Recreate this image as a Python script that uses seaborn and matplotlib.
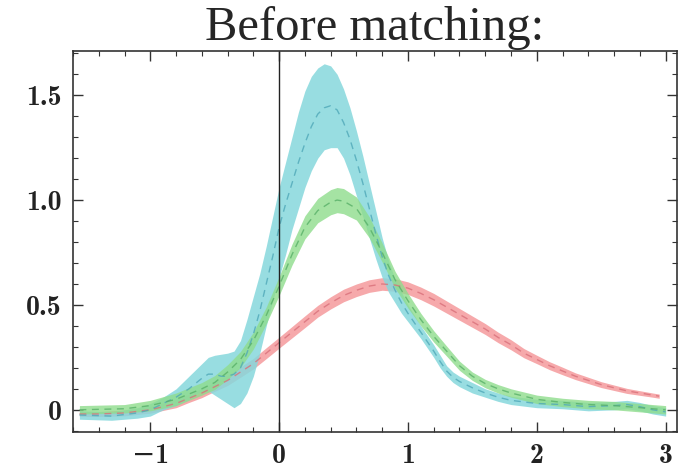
import numpy as np
import pandas as pd
import matplotlib
matplotlib.use("Agg")
import matplotlib.pyplot as plt
import seaborn as sns
from matplotlib.ticker import MultipleLocator, FixedLocator

# ---- data ----
red_x = [-1.55, -1.4, -1.2, -1.0, -0.9, -0.8, -0.7, -0.6, -0.5, -0.4, -0.3, -0.2, -0.1, 0.0,
         0.1, 0.2, 0.3, 0.4, 0.5, 0.6, 0.7, 0.8, 0.9, 1.0, 1.1, 1.2, 1.3, 1.4, 1.5, 1.6, 1.7,
         1.8, 1.9, 2.0, 2.1, 2.2, 2.3, 2.4, 2.5, 2.6, 2.7, 2.8, 2.9, 2.95]
red_y = [-0.02, -0.02, -0.015, 0.0, 0.015, 0.03, 0.055, 0.08, 0.11, 0.14, 0.18, 0.22, 0.27,
         0.32, 0.37, 0.42, 0.47, 0.51, 0.545, 0.57, 0.59, 0.60, 0.595, 0.58, 0.555, 0.525,
         0.49, 0.455, 0.42, 0.385, 0.345, 0.31, 0.27, 0.24, 0.21, 0.185, 0.16, 0.14, 0.12,
         0.105, 0.09, 0.08, 0.07, 0.065]
red_w = [0.012, 0.012, 0.014, 0.016, 0.018, 0.02, 0.02, 0.022, 0.022, 0.024, 0.025, 0.025,
         0.026, 0.026, 0.027, 0.028, 0.028, 0.029, 0.03, 0.03, 0.03, 0.03, 0.03, 0.03, 0.03,
         0.03, 0.029, 0.028, 0.027, 0.026, 0.025, 0.024, 0.022, 0.02, 0.019, 0.018, 0.016,
         0.015, 0.014, 0.013, 0.012, 0.011, 0.01, 0.01]

green_x = [-1.55, -1.2, -1.0, -0.8, -0.6, -0.5, -0.4, -0.3, -0.2, -0.1, 0.0, 0.1, 0.2, 0.3,
           0.4, 0.45, 0.5, 0.6, 0.7, 0.8, 0.9, 1.0, 1.1, 1.2, 1.3, 1.4, 1.5, 1.6, 1.7, 1.8,
           1.9, 2.0, 2.2, 2.4, 2.6, 2.8, 3.0]
green_y = [0.0, 0.005, 0.02, 0.05, 0.10, 0.13, 0.18, 0.24, 0.33, 0.45, 0.59, 0.74, 0.87,
           0.95, 0.99, 1.0, 0.995, 0.96, 0.87, 0.75, 0.62, 0.52, 0.43, 0.35, 0.28, 0.21, 0.16,
           0.125, 0.10, 0.08, 0.065, 0.05, 0.035, 0.025, 0.02, 0.01, 0.0]
green_w = [0.02, 0.02, 0.025, 0.03, 0.03, 0.033, 0.035, 0.038, 0.04, 0.04, 0.045, 0.05, 0.055,
           0.058, 0.06, 0.06, 0.06, 0.055, 0.05, 0.045, 0.04, 0.035, 0.03, 0.027, 0.024,
           0.022, 0.02, 0.02, 0.02, 0.02, 0.02, 0.02, 0.02, 0.02, 0.02, 0.02, 0.02]

cyan_x = [-1.55, -1.3, -1.1, -1.0, -0.9, -0.8, -0.7, -0.6, -0.55, -0.5, -0.45, -0.4, -0.35,
          -0.3, -0.25, -0.2, -0.15, -0.1, -0.05, 0.0, 0.05, 0.1, 0.15, 0.2, 0.25, 0.3, 0.35,
          0.4, 0.45, 0.5, 0.55, 0.6, 0.65, 0.7, 0.75, 0.8, 0.85, 0.9, 0.95, 1.0, 1.1, 1.2,
          1.25, 1.3, 1.35, 1.4, 1.5, 1.6, 1.7, 1.8, 2.0, 2.2, 2.4, 2.6, 2.7, 2.8, 2.9, 3.0]
cyan_y = [-0.025, -0.03, -0.015, 0.0, 0.03, 0.06, 0.10, 0.15, 0.17, 0.17, 0.16, 0.16, 0.17,
          0.20, 0.27, 0.36, 0.47, 0.60, 0.73, 0.87, 0.98, 1.08, 1.18, 1.27, 1.35, 1.41, 1.44,
          1.45, 1.43, 1.37, 1.29, 1.19, 1.08, 0.96, 0.84, 0.73, 0.64, 0.57, 0.51, 0.46, 0.37,
          0.28, 0.23, 0.185, 0.155, 0.135, 0.105, 0.08, 0.06, 0.045, 0.03, 0.025, 0.015,
          0.02, 0.025, 0.015, 0.0, -0.01]
cyan_lo = [-0.045, -0.05, -0.04, -0.03, 0.0, 0.02, 0.05, 0.09, 0.09, 0.07, 0.05, 0.03, 0.01,
           0.03, 0.08, 0.16, 0.27, 0.40, 0.52, 0.63, 0.74, 0.86, 0.96, 1.06, 1.14, 1.20, 1.24,
           1.25, 1.25, 1.20, 1.12, 1.02, 0.92, 0.82, 0.72, 0.63, 0.56, 0.51, 0.46, 0.42,
           0.34, 0.25, 0.20, 0.16, 0.13, 0.11, 0.08, 0.06, 0.04, 0.025, 0.01, 0.005, -0.005,
           0.0, 0.005, -0.005, -0.02, -0.03]
cyan_hi = [-0.005, -0.01, 0.01, 0.03, 0.06, 0.10, 0.16, 0.22, 0.25, 0.26, 0.265, 0.27, 0.28,
           0.33, 0.43, 0.54, 0.65, 0.78, 0.92, 1.06, 1.18, 1.30, 1.42, 1.52, 1.59, 1.63, 1.65,
           1.64, 1.60, 1.53, 1.44, 1.33, 1.21, 1.08, 0.95, 0.82, 0.71, 0.62, 0.56, 0.50,
           0.40, 0.31, 0.26, 0.21, 0.18, 0.16, 0.13, 0.10, 0.08, 0.065, 0.05, 0.045, 0.035,
           0.04, 0.045, 0.035, 0.02, 0.01]

x_ticks = [-1, 0, 1, 2, 3]
x_labels = ["\u22121", "0", "1", "2", "3"]
y_ticks = [0, 0.5, 1.0, 1.5]
y_labels = ["0", "0.5", "1.0", "1.5"]
title = "Before matching:"

# ---- plotting ----
sns.set_style("white")
plt.rcParams["font.family"] = ["Liberation Serif", "DejaVu Serif"]

fig = plt.figure(figsize=(6.82, 4.74), dpi=100)
ax = fig.add_axes([0.107, 0.089, 0.886, 0.803])

red = pd.DataFrame({"x": red_x, "y": red_y, "w": red_w})
green = pd.DataFrame({"x": green_x, "y": green_y, "w": green_w})
cyan = pd.DataFrame({"x": cyan_x, "y": cyan_y, "lo": cyan_lo, "hi": cyan_hi})

dash = (0, (5, 4))
ax.fill_between(red["x"], red["y"] - red["w"], red["y"] + red["w"], color="#f59a9c",
                alpha=0.85, linewidth=0)
sns.lineplot(data=red, x="x", y="y", ax=ax, color="#d9707a", linestyle=dash, linewidth=1.0,
             alpha=0.8)

ax.fill_between(cyan["x"], cyan["lo"], cyan["hi"], color="#86d8dc", alpha=0.85, linewidth=0)
sns.lineplot(data=cyan, x="x", y="y", ax=ax, color="#4fa8b8", linestyle=dash, linewidth=1.0,
             alpha=0.8)

ax.fill_between(green["x"], green["y"] - green["w"], green["y"] + green["w"], color="#8fdc8c",
                alpha=0.8, linewidth=0)
sns.lineplot(data=green, x="x", y="y", ax=ax, color="#58b068", linestyle=dash, linewidth=1.0,
             alpha=0.8)

ax.axvline(0, color="#222222", linewidth=1.0)

ax.set_xlim(-1.6, 3.09)
ax.set_ylim(-0.105, 1.71)
ax.set_xlabel("")
ax.set_ylabel("")

ax.xaxis.set_major_locator(FixedLocator(x_ticks))
ax.yaxis.set_major_locator(FixedLocator(y_ticks))
ax.xaxis.set_minor_locator(MultipleLocator(0.2))
ax.yaxis.set_minor_locator(MultipleLocator(0.1))
tick_font = {"family": ["cmb10", "DejaVu Serif"], "size": 20}
ax.set_xticklabels(x_labels, fontdict=tick_font)
ax.set_yticklabels(y_labels, fontdict=tick_font)
ax.tick_params(which="both", direction="in", top=True, right=True, bottom=True, left=True,
               color="#333333", labelcolor="#222222")
ax.tick_params(which="major", length=7, width=1.0, pad=8)
ax.tick_params(which="minor", length=3.5, width=0.8)
for s in ax.spines.values():
    s.set_color("#333333")
    s.set_linewidth(1.2)

fig.text(0.55, 0.915, title, ha="center", va="baseline", fontsize=35,
         family=["Liberation Serif", "DejaVu Serif"])

fig.savefig("out.png", dpi=100)
